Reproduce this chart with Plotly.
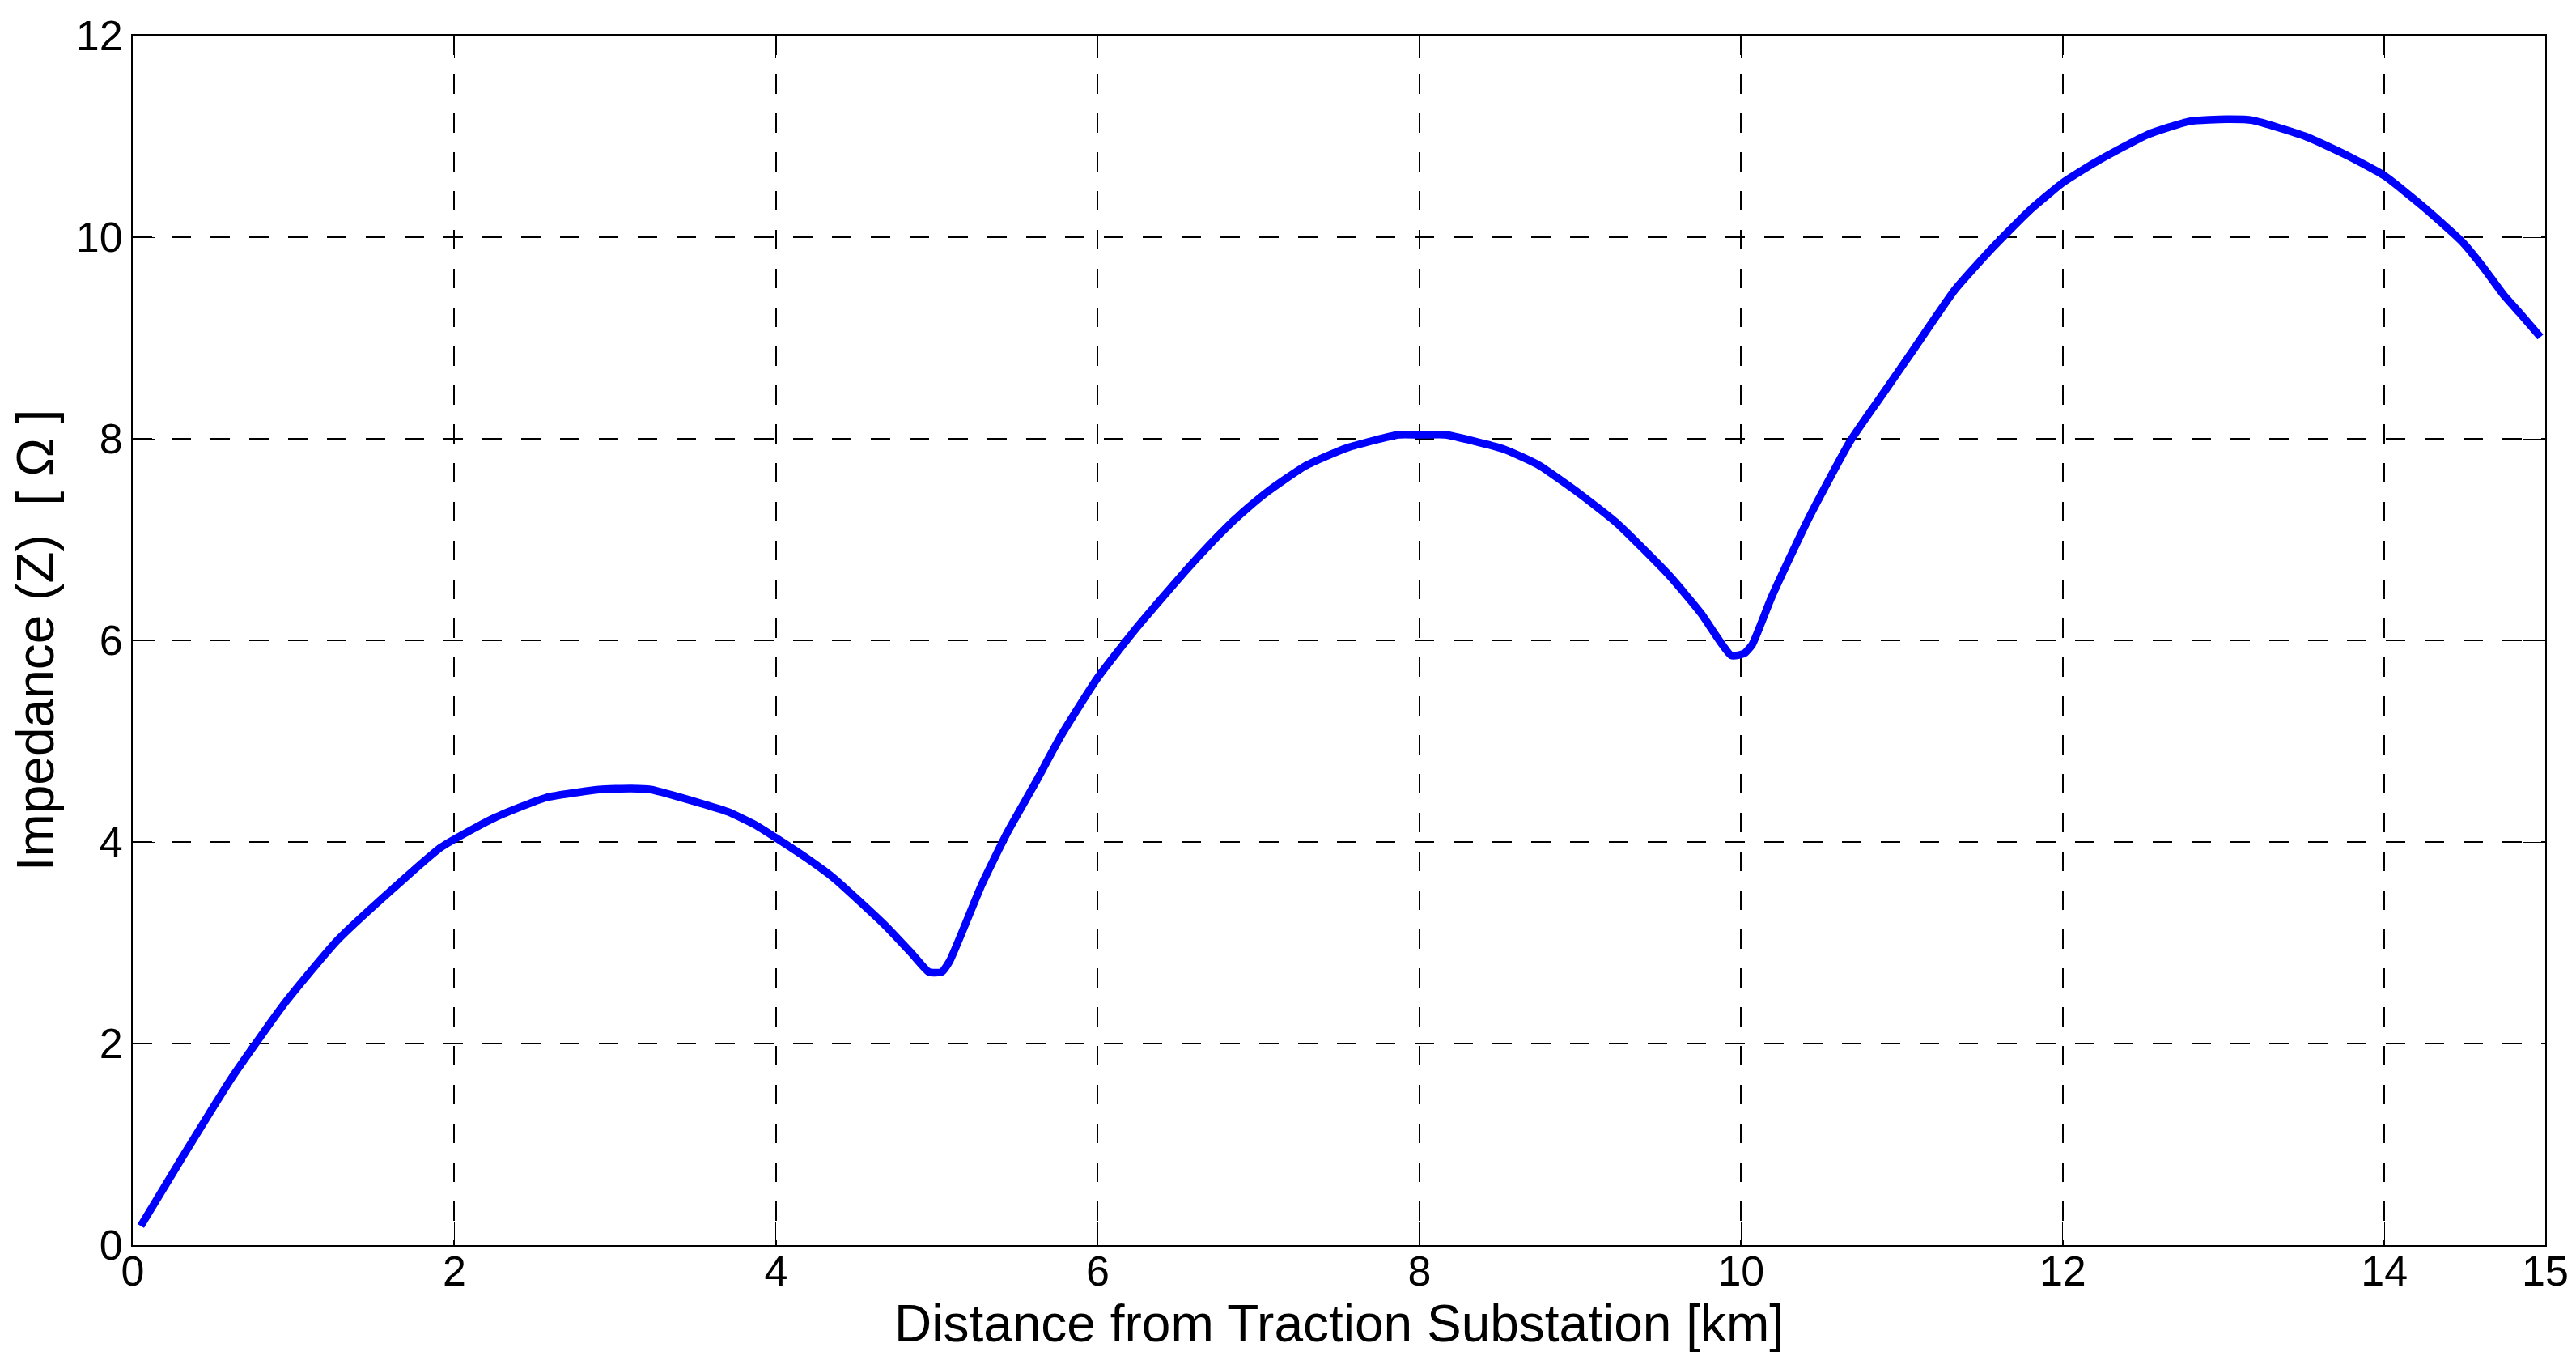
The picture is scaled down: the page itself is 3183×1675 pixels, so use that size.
import plotly.graph_objects as go

# Distance from traction substation [km]
distance_km = [0.05, 0.30, 0.62, 0.95, 1.27, 1.60, 1.92, 2.25, 2.57, 2.90, 3.10, 3.22,
               3.54, 3.70, 3.87, 4.00, 4.19, 4.36, 4.52, 4.68, 4.84, 4.95, 5.03, 5.08,
               5.28, 5.44, 5.61, 5.77, 6.00, 6.25, 6.58, 6.80, 6.93, 7.06, 7.29, 7.55,
               7.87, 8.00, 8.16, 8.52, 8.74, 9.00, 9.23, 9.55, 9.75, 9.94, 10.02, 10.07,
               10.19, 10.42, 10.68, 10.91, 11.07, 11.33, 11.56, 11.79, 12.00, 12.21,
               12.53, 12.79, 13.02, 13.18, 13.51, 13.77, 14.00, 14.25, 14.48, 14.61,
               14.74, 14.84, 14.97]

# Impedance (Z) [Ohm]
impedance = [0.19, 0.85, 1.67, 2.41, 3.02, 3.51, 3.95, 4.24, 4.44, 4.52, 4.53, 4.52,
             4.38, 4.30, 4.17, 4.04, 3.84, 3.64, 3.41, 3.17, 2.90, 2.71, 2.71, 2.82,
             3.58, 4.10, 4.58, 5.05, 5.63, 6.14, 6.75, 7.12, 7.31, 7.48, 7.73, 7.91,
             8.04, 8.04, 8.04, 7.90, 7.74, 7.45, 7.16, 6.65, 6.27, 5.85, 5.87, 5.96,
             6.43, 7.21, 7.98, 8.51, 8.88, 9.48, 9.89, 10.26, 10.54, 10.75,
             11.02, 11.15, 11.17, 11.16, 11.00, 10.81, 10.61, 10.29, 9.96, 9.71,
             9.43, 9.25, 9.01]

x_ticks = [0, 2, 4, 6, 8, 10, 12, 14, 15]
y_ticks = [0, 2, 4, 6, 8, 10, 12]

FONT = "Liberation Sans, Arial, Helvetica, sans-serif"

fig = go.Figure()
fig.add_trace(go.Scatter(
    x=distance_km, y=impedance, mode="lines",
    line=dict(color="#0000FF", width=9.5, shape="spline", smoothing=0.5),
    showlegend=False,
))

axis_common = dict(
    showline=True, linecolor="black", linewidth=1.8, mirror="ticks",
    ticks="inside", ticklen=28, tickwidth=1.3, tickcolor="black",
    showgrid=True, gridcolor="black", gridwidth=1.8, griddash="24px,24px",
    zeroline=False,
    tickfont=dict(family=FONT, size=52, color="black"),
)

fig.update_xaxes(
    range=[0, 15], tickvals=x_ticks, ticktext=[str(v) for v in x_ticks],
    ticklabelstandoff=-14,
    title=dict(text="Distance from Traction Substation [km]",
               font=dict(family=FONT, size=64, color="black"), standoff=0),
    **axis_common,
)
fig.update_yaxes(
    range=[0, 12], tickvals=y_ticks, ticktext=[str(v) for v in y_ticks],
    title=dict(text="Impedance (Z)\u00a0\u00a0[\u00a0\u03a9\u00a0]",
               font=dict(family=FONT, size=64, color="black"), standoff=22),
    **axis_common,
)

fig.update_layout(
    width=3183, height=1675,
    margin=dict(l=156, r=46, t=36, b=145, autoexpand=False),
    paper_bgcolor="white", plot_bgcolor="white",
    font=dict(family=FONT, color="black"),
)

fig.write_html("out.html")
